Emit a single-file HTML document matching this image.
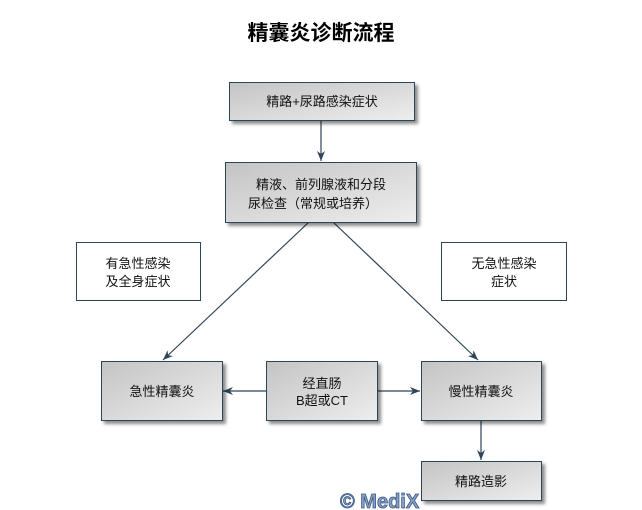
<!DOCTYPE html>
<html><head><meta charset="utf-8"><style>
html,body{margin:0;padding:0;background:#fff;}
svg{display:block;}
text{font-family:"Liberation Sans","Noto Sans CJK SC",sans-serif;}
</style></head><body>
<svg width="642" height="510" viewBox="0 0 642 510" xmlns="http://www.w3.org/2000/svg">
<defs>
<linearGradient id="g" x1="0" y1="0" x2="1" y2="1">
<stop offset="0" stop-color="#c4c4c4"/><stop offset="1" stop-color="#eeeeee"/>
</linearGradient>
<marker id="a" viewBox="0 0 10 10" refX="10" refY="5" markerWidth="10" markerHeight="10" orient="auto" markerUnits="userSpaceOnUse">
<path d="M0,1 L10,5 L0,9 L3,5 Z" fill="#2e4459"/>
</marker>
<filter id="s" x="-10%" y="-10%" width="130%" height="140%"><feDropShadow dx="3" dy="3" stdDeviation="1.5" flood-color="#000" flood-opacity="0.45"/></filter>
</defs>
<text x="321" y="40" text-anchor="middle" font-size="21" font-weight="bold" font-family="'Noto Sans CJK SC',sans-serif">精囊炎诊断流程</text>

<g stroke="#2e4459" stroke-width="1.2" fill="none">
<line x1="321" y1="120" x2="321" y2="161" marker-end="url(#a)"/>
<line x1="309" y1="222" x2="163" y2="360" marker-end="url(#a)"/>
<line x1="333" y1="222" x2="478" y2="360" marker-end="url(#a)"/>
<line x1="266" y1="391" x2="223" y2="391" marker-end="url(#a)"/>
<line x1="378" y1="391" x2="420" y2="391" marker-end="url(#a)"/>
<line x1="481" y1="421" x2="481" y2="460" marker-end="url(#a)"/>
</g>

<g stroke="#2e4459" stroke-width="1" fill="url(#g)" filter="url(#s)">
<rect x="229.5" y="82.5" width="185" height="38"/>
<rect x="225.5" y="162.5" width="191" height="60"/>
<rect x="101.5" y="361.5" width="121" height="59"/>
<rect x="266.5" y="361.5" width="111" height="59"/>
<rect x="421.5" y="361.5" width="120" height="59"/>
<rect x="421.5" y="461.5" width="120" height="39"/>
</g>
<g stroke="#2e4459" stroke-width="1" fill="#fff">
<rect x="76.5" y="242.5" width="124" height="58"/>
<rect x="441.5" y="242.5" width="125" height="58"/>
</g>

<g font-size="13" fill="#111" text-anchor="middle">
<text x="322" y="106">精路+尿路感染症状</text>
<text x="321" y="189">精液、前列腺液和分段</text>
<text x="321" y="208"><tspan x="313">尿检查（常规或培养）</tspan></text>
<text x="138" y="268">有急性感染</text>
<text x="138" y="286">及全身症状</text>
<text x="504" y="268">无急性感染</text>
<text x="504" y="286">症状</text>
<text x="162" y="396">急性精囊炎</text>
<text x="322" y="388">经直肠</text>
<text x="322" y="405">B超或CT</text>
<text x="481" y="396">慢性精囊炎</text>
<text x="481" y="486">精路造影</text>
</g>
<text x="340" y="508" font-size="20" font-weight="bold" fill="#8aa0c0" stroke="#3a5a88" stroke-width="0.8">© MediX</text>
</svg>
</body></html>
